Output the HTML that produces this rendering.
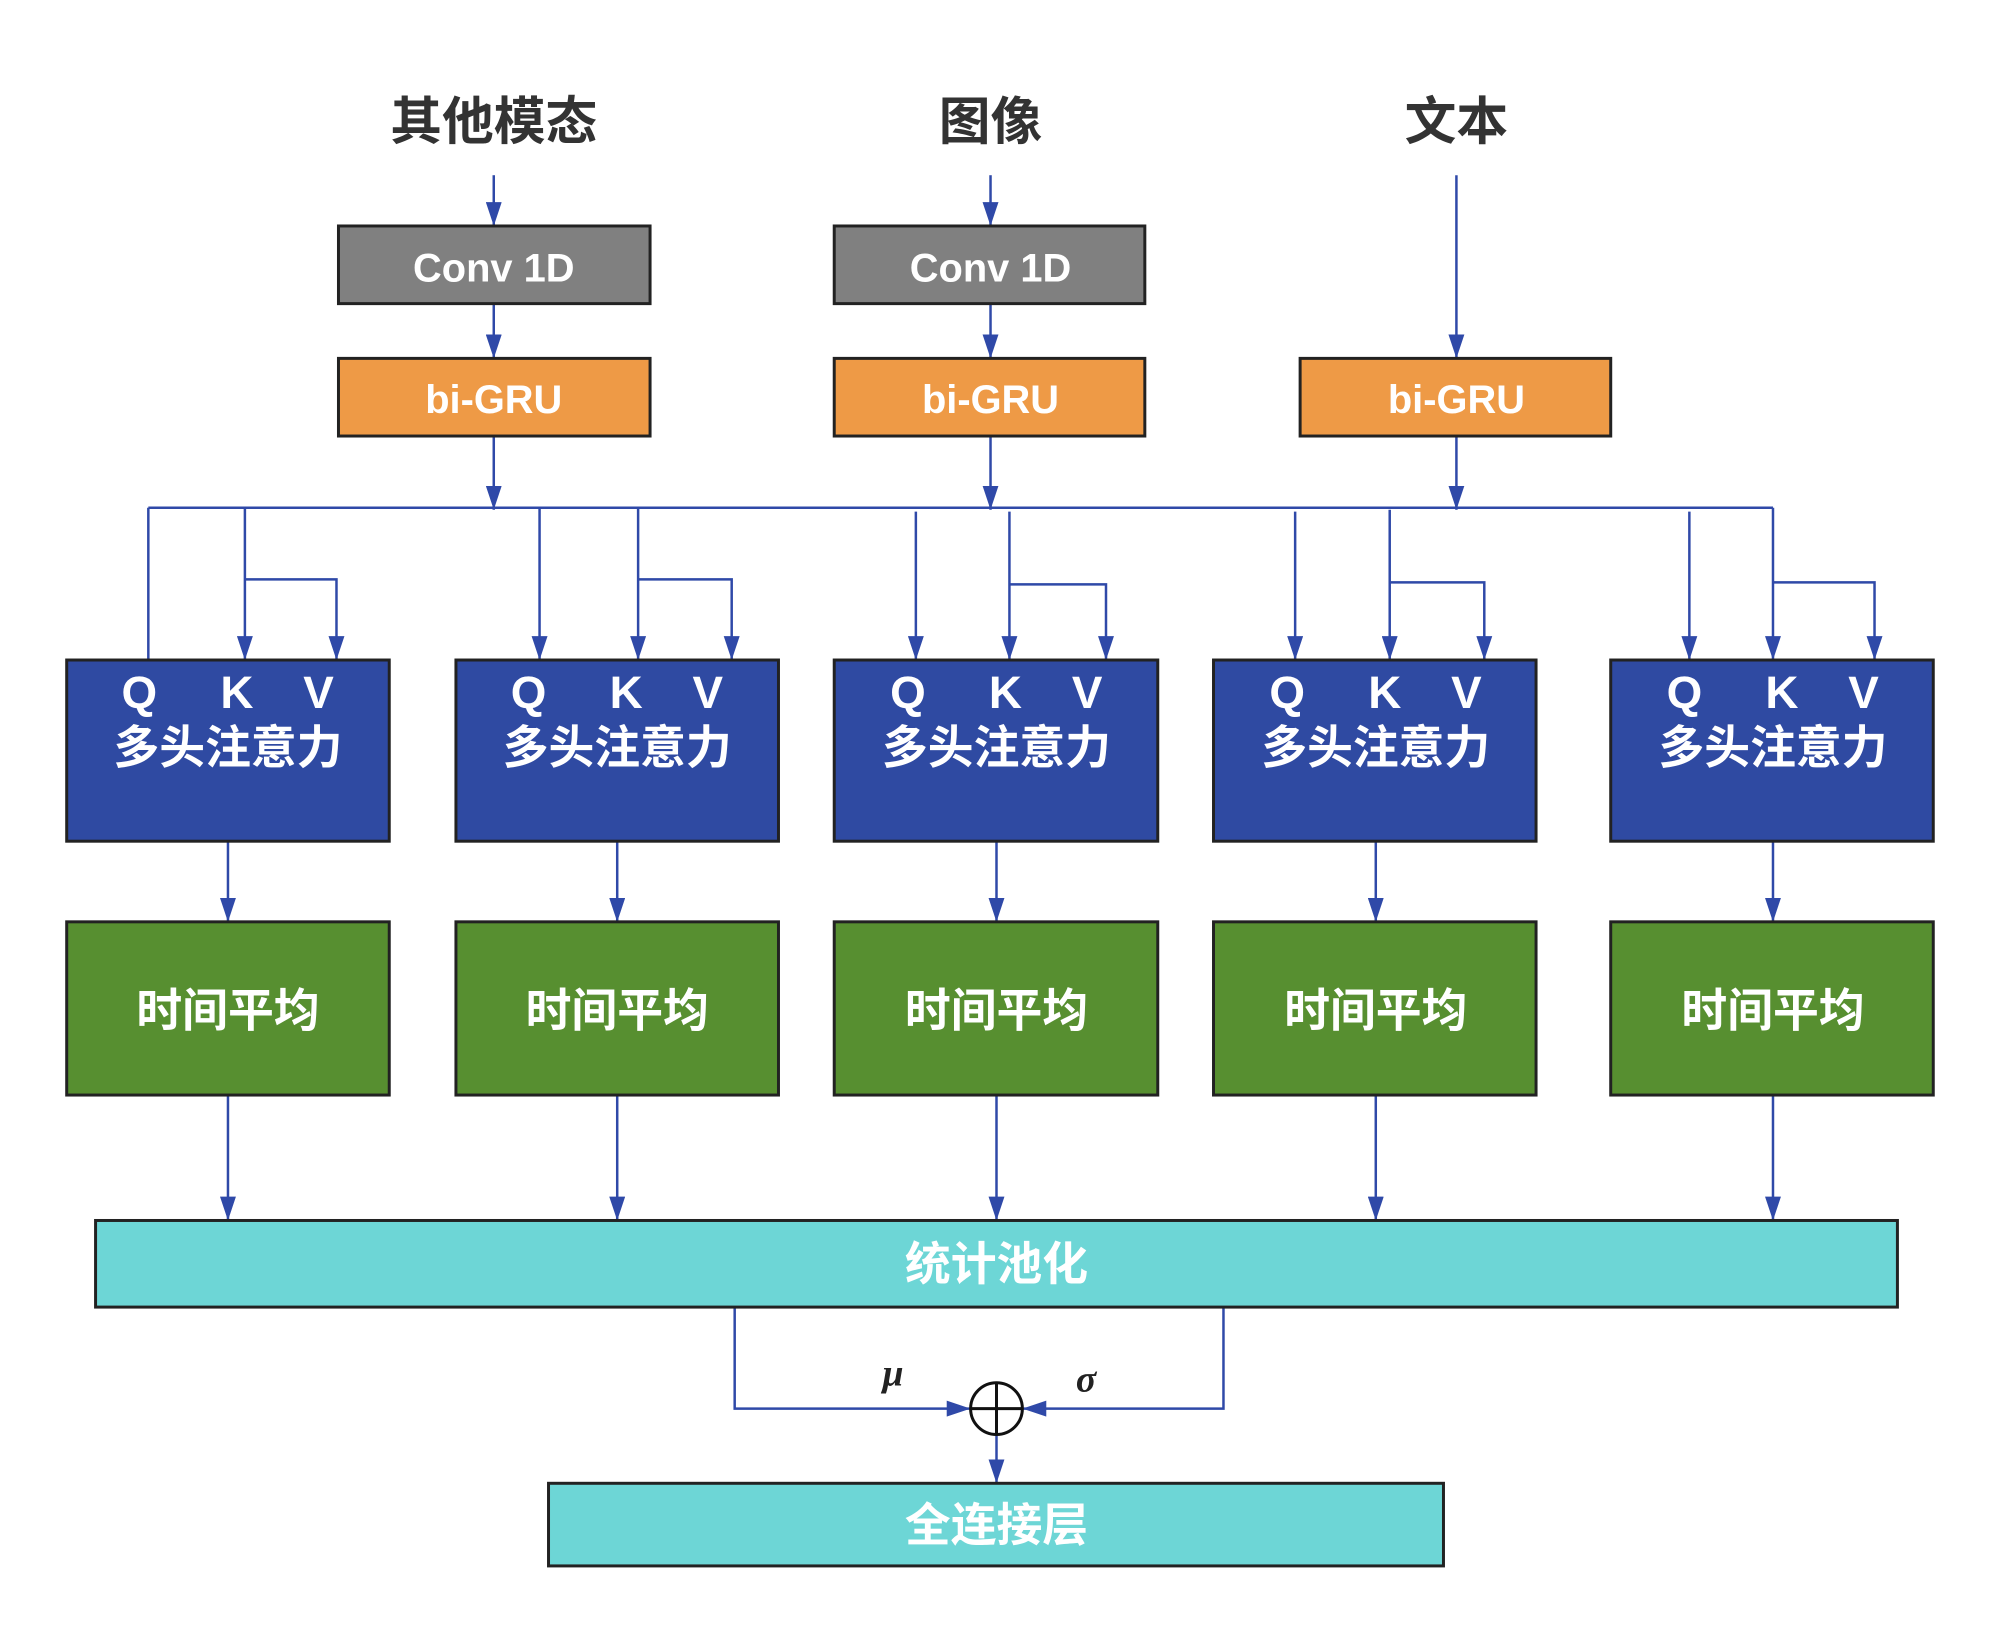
<!DOCTYPE html>
<html><head><meta charset="utf-8"><style>
html,body{margin:0;padding:0;background:#fff}
svg{display:block}
text{font-family:"Liberation Sans","Noto Sans CJK SC",sans-serif;font-weight:bold}
</style></head><body>
<svg width="2000" height="1636" viewBox="0 0 2000 1636" xmlns="http://www.w3.org/2000/svg">
<defs>
<marker id="a" viewBox="0 0 10 10" refX="10" refY="5" markerWidth="24" markerHeight="16" markerUnits="userSpaceOnUse" orient="auto" preserveAspectRatio="none">
<path d="M0,0 L10,5 L0,10 z" fill="#2f49a8"/></marker>
</defs>
<rect width="2000" height="1636" fill="#fff"/>
<g transform="scale(0.9955)">
<g font-size="52" fill="#333" text-anchor="middle">
<text x="496" y="140">其他模态</text>
<text x="995" y="140">图像</text>
<text x="1463" y="140">文本</text>
</g>
<g stroke="#2f49a8" stroke-width="2.5" fill="none">
<line x1="496" y1="176" x2="496" y2="227" marker-end="url(#a)"/>
<line x1="995" y1="176" x2="995" y2="227" marker-end="url(#a)"/>
<line x1="1463" y1="176" x2="1463" y2="360" marker-end="url(#a)"/>
<line x1="496" y1="305" x2="496" y2="360" marker-end="url(#a)"/>
<line x1="995" y1="305" x2="995" y2="360" marker-end="url(#a)"/>
<line x1="496" y1="438" x2="496" y2="512" marker-end="url(#a)"/>
<line x1="995" y1="438" x2="995" y2="512" marker-end="url(#a)"/>
<line x1="1463" y1="438" x2="1463" y2="512" marker-end="url(#a)"/>
<line x1="149" y1="510" x2="1781" y2="510"/>
<line x1="149" y1="510" x2="149" y2="663"/>
<line x1="246" y1="510" x2="246" y2="663" marker-end="url(#a)"/>
<polyline points="246,582 338,582 338,663" marker-end="url(#a)"/>
<line x1="542" y1="510" x2="542" y2="663" marker-end="url(#a)"/>
<line x1="641" y1="510" x2="641" y2="663" marker-end="url(#a)"/>
<polyline points="641,582 735,582 735,663" marker-end="url(#a)"/>
<line x1="920" y1="514" x2="920" y2="663" marker-end="url(#a)"/>
<line x1="1014" y1="514" x2="1014" y2="663" marker-end="url(#a)"/>
<polyline points="1014,587 1111,587 1111,663" marker-end="url(#a)"/>
<line x1="1301" y1="514" x2="1301" y2="663" marker-end="url(#a)"/>
<line x1="1396" y1="512" x2="1396" y2="663" marker-end="url(#a)"/>
<polyline points="1396,585 1491,585 1491,663" marker-end="url(#a)"/>
<line x1="1697" y1="514" x2="1697" y2="663" marker-end="url(#a)"/>
<line x1="1781" y1="510" x2="1781" y2="663" marker-end="url(#a)"/>
<polyline points="1781,585 1883,585 1883,663" marker-end="url(#a)"/>
<line x1="229" y1="845" x2="229" y2="926" marker-end="url(#a)"/>
<line x1="620" y1="845" x2="620" y2="926" marker-end="url(#a)"/>
<line x1="1001" y1="845" x2="1001" y2="926" marker-end="url(#a)"/>
<line x1="1382" y1="845" x2="1382" y2="926" marker-end="url(#a)"/>
<line x1="1781" y1="845" x2="1781" y2="926" marker-end="url(#a)"/>
<line x1="229" y1="1100" x2="229" y2="1226" marker-end="url(#a)"/>
<line x1="620" y1="1100" x2="620" y2="1226" marker-end="url(#a)"/>
<line x1="1001" y1="1100" x2="1001" y2="1226" marker-end="url(#a)"/>
<line x1="1382" y1="1100" x2="1382" y2="1226" marker-end="url(#a)"/>
<line x1="1781" y1="1100" x2="1781" y2="1226" marker-end="url(#a)"/>
<polyline points="738,1313 738,1415 975,1415" marker-end="url(#a)"/>
<polyline points="1229,1313 1229,1415 1027,1415" marker-end="url(#a)"/>
<line x1="1001" y1="1441" x2="1001" y2="1490" marker-end="url(#a)"/>
</g>
<g stroke="#222" stroke-width="3">
<rect x="340" y="227" width="313" height="78" fill="#808080"/>
<rect x="838" y="227" width="312" height="78" fill="#808080"/>
<rect x="340" y="360" width="313" height="78" fill="#ee9a46"/>
<rect x="838" y="360" width="312" height="78" fill="#ee9a46"/>
<rect x="1306" y="360" width="312" height="78" fill="#ee9a46"/>
<g fill="#2f4aa2">
<rect x="67" y="663" width="324" height="182"/>
<rect x="458" y="663" width="324" height="182"/>
<rect x="838" y="663" width="325" height="182"/>
<rect x="1219" y="663" width="324" height="182"/>
<rect x="1618" y="663" width="324" height="182"/>
</g>
<g fill="#578f30">
<rect x="67" y="926" width="324" height="174"/>
<rect x="458" y="926" width="324" height="174"/>
<rect x="838" y="926" width="325" height="174"/>
<rect x="1219" y="926" width="324" height="174"/>
<rect x="1618" y="926" width="324" height="174"/>
</g>
<rect x="96" y="1226" width="1810" height="87" fill="#6dd6d6"/>
<rect x="551" y="1490" width="899" height="83" fill="#6dd6d6"/>
</g>
<circle cx="1001" cy="1415" r="26" fill="#fff" stroke="#111" stroke-width="3"/>
<line x1="975" y1="1415" x2="1027" y2="1415" stroke="#111" stroke-width="3"/>
<line x1="1001" y1="1389" x2="1001" y2="1441" stroke="#111" stroke-width="3"/>
<g fill="#fff" text-anchor="middle">
<text x="496" y="283" font-size="40">Conv 1D</text>
<text x="995" y="283" font-size="40">Conv 1D</text>
<text x="496" y="415" font-size="40">bi-GRU</text>
<text x="995" y="415" font-size="40">bi-GRU</text>
<text x="1463" y="415" font-size="40">bi-GRU</text>
<g font-size="46">
<text x="140" y="711">Q</text><text x="238" y="711">K</text><text x="320" y="711">V</text>
<text x="531" y="711">Q</text><text x="629" y="711">K</text><text x="711" y="711">V</text>
<text x="912" y="711">Q</text><text x="1010" y="711">K</text><text x="1092" y="711">V</text>
<text x="1293" y="711">Q</text><text x="1391" y="711">K</text><text x="1473" y="711">V</text>
<text x="1692" y="711">Q</text><text x="1790" y="711">K</text><text x="1872" y="711">V</text>
<text x="229" y="767">多头注意力</text>
<text x="620" y="767">多头注意力</text>
<text x="1001" y="767">多头注意力</text>
<text x="1382" y="767">多头注意力</text>
<text x="1781" y="767">多头注意力</text>
<text x="229" y="1031">时间平均</text>
<text x="620" y="1031">时间平均</text>
<text x="1001" y="1031">时间平均</text>
<text x="1382" y="1031">时间平均</text>
<text x="1781" y="1031">时间平均</text>
<text x="1001" y="1286">统计池化</text>
<text x="1001" y="1548">全连接层</text>
</g>
</g>
<text x="897" y="1392" font-size="38" font-style="italic" font-weight="normal" style="font-family:'Liberation Serif',serif" fill="#222" text-anchor="middle">μ</text>
<text x="1091" y="1398" font-size="38" font-style="italic" font-weight="normal" style="font-family:'Liberation Serif',serif" fill="#222" text-anchor="middle">σ</text>
</g>
</svg>
</body></html>
